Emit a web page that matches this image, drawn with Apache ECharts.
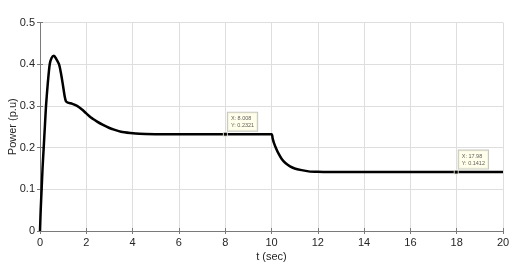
<!DOCTYPE html>
<html><head><meta charset="utf-8">
<script src="https://cdn.jsdelivr.net/npm/echarts@6/dist/echarts.min.js"></script>
<style>html,body{margin:0;padding:0;background:#fff;}#c{width:531px;height:273px;}</style>
</head><body><div id="c"></div>
<script>
const tValues = [0,0.03,0.07,0.11,0.16,0.21,0.26,0.33,0.42,0.5,0.6,0.7,0.82,0.9,0.99,1.06,1.12,1.2,1.4,1.6,1.8,2.0,2.2,2.45,2.7,3.0,3.2,3.5,3.9,4.3,5,6,8,10,10.05,10.1,10.2,10.3,10.45,10.6,10.8,11.0,11.3,11.6,12.0,12.5,14,20];
const powerValues = [0,0.05,0.10,0.15,0.20,0.25,0.30,0.35,0.40,0.415,0.42,0.413,0.40,0.38,0.35,0.325,0.311,0.308,0.305,0.300,0.292,0.282,0.272,0.263,0.255,0.247,0.243,0.238,0.235,0.233,0.2323,0.2321,0.2321,0.2321,0.222,0.212,0.198,0.186,0.172,0.163,0.155,0.150,0.146,0.143,0.1418,0.1413,0.1412,0.1412];
const tipX = [8.008, 17.98];
const tipY = [0.2321, 0.1412];
const tipLabels = ['X: 8.008\nY: 0.2321', 'X: 17.98\nY: 0.1412'];
const xTicks = [0,2,4,6,8,10,12,14,16,18,20];
const yTicks = [0,0.1,0.2,0.3,0.4,0.5];

const font = 'Liberation Sans, Arial, Helvetica, sans-serif';
const axisCol = '#7a7a7a';
const textCol = '#262626';
const chart = echarts.init(document.getElementById('c'), null, {renderer:'canvas'});
const line = tValues.map((t,i)=>[t, powerValues[i]]);
const tips = tipX.map((x,i)=>({value:[x, tipY[i]], label:{formatter: tipLabels[i]}}));
chart.setOption({
  animation:false,
  backgroundColor:'#fff',
  grid:{left:40,right:28,top:22.5,bottom:42,containLabel:false,outerBoundsMode:'none'},
  xAxis:[{
    type:'value', min:0, max:20, interval:2,
    name:'t (sec)', nameLocation:'middle', nameGap:20, nameMoveOverlap:false,
    nameTextStyle:{color:textCol,fontSize:11,fontFamily:font},
    axisLine:{show:true,onZero:false,lineStyle:{color:axisCol,width:1}},
    axisTick:{show:true,inside:true,length:3,lineStyle:{color:axisCol}},
    axisLabel:{color:textCol,fontSize:11,fontFamily:font,margin:6},
    splitLine:{show:true,lineStyle:{color:'#dedede',width:1}}
  },{
    type:'value', min:0, max:20, interval:2, position:'top',
    axisLine:{show:true,lineStyle:{color:axisCol,width:1}},
    axisTick:{show:true,inside:true,length:3,lineStyle:{color:axisCol}},
    axisLabel:{show:false}, splitLine:{show:false}
  }],
  yAxis:[{
    type:'value', min:0, max:0.5, interval:0.1,
    name:'Power (p.u)', nameLocation:'middle', nameGap:22, nameMoveOverlap:false,
    nameTextStyle:{color:textCol,fontSize:11,fontFamily:font},
    axisLine:{show:true,onZero:false,lineStyle:{color:axisCol,width:1}},
    axisTick:{show:true,inside:true,length:3,lineStyle:{color:axisCol}},
    axisLabel:{color:textCol,fontSize:11,fontFamily:font,margin:5,
      formatter:v=>{const r=Math.round(v*10)/10;return r===0?'0':String(r);}},
    splitLine:{show:true,lineStyle:{color:'#dedede',width:1}}
  },{
    type:'value', min:0, max:0.5, interval:0.1, position:'right',
    axisLine:{show:true,lineStyle:{color:axisCol,width:1}},
    axisTick:{show:true,inside:true,length:3,lineStyle:{color:axisCol}},
    axisLabel:{show:false}, splitLine:{show:false}
  }],
  series:[{
    type:'line', data:line, showSymbol:false, smooth:0.25,
    lineStyle:{color:'#000',width:2.5}, z:3
  },{
    type:'scatter', data:tips, symbol:'rect', symbolSize:4,
    itemStyle:{color:'#000',borderColor:'#fffff0',borderWidth:1}, z:5,
    label:{show:true, position:[5,-19], align:'left', verticalAlign:'top',
      fontSize:5.5, lineHeight:7, fontFamily:font, color:'#333',
      backgroundColor:'#ffffe6', borderColor:'#b8b8b0', borderWidth:1, padding:[2,3,2,3]}
  }]
});
</script></body></html>
